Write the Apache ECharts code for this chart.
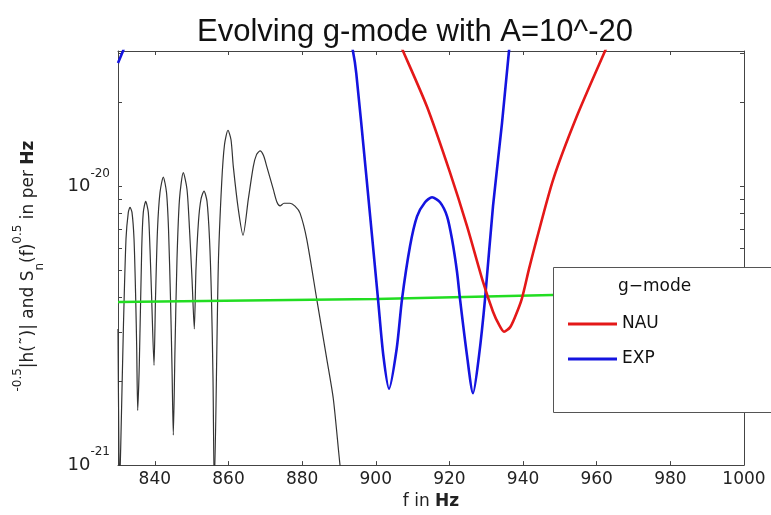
<!DOCTYPE html>
<html><head><meta charset="utf-8">
<script src="https://cdn.jsdelivr.net/npm/echarts@6/dist/echarts.min.js"></script>
<style>html,body{margin:0;padding:0;background:#fff}#c{width:771px;height:515px}</style>
</head><body><div id="c"></div>
<script>
// ---- text ----
const titleText = 'Evolving g-mode with A=10^-20';
const legendHeader = 'g\u2212mode';
const legendNames = ['NAU', 'EXP'];
// ---- axes ----
const xRange = [830, 1000];
const xTicks = [840, 860, 880, 900, 920, 940, 960, 980, 1000];
const yRange = [1e-21, 3.06e-20];
const yDecades = [-21, -20];
const yMinorMult = [2, 3, 4, 5, 6, 7, 8, 9];
// ---- black curve: |h(f)| ----
const blackF = [830.0, 830.41, 830.73, 831.44, 832.17, 832.80, 833.26, 833.80, 834.35, 834.81, 835.08, 835.35,
  835.78, 836.44, 836.87, 837.52, 838.23, 838.69, 839.15, 839.78,
  840.18, 840.73, 841.41, 842.30, 843.17, 843.72, 844.26, 844.67, 845.02,
  845.48, 846.02, 846.70, 847.73, 848.74, 849.42, 850.10, 850.72,
  851.18, 851.86, 852.54, 853.36, 854.17, 854.85, 855.39, 855.80, 856.15,
  857.24, 858.16, 858.92, 859.87, 860.69, 861.31, 862.67, 863.95,
  865.39, 866.75, 867.62, 868.57, 869.52, 870.39, 872.18, 873.18, 874.0, 875.08, 876.71, 878.07, 879.43,
  881.25, 883.97, 886.68, 888.47, 890.29, 891.1];
const blackV = [3.08e-21, 8.3e-22, 1.15e-21, 3.01e-21, 6.47e-21, 8.07e-21, 8.41e-21, 8.07e-21, 6.47e-21, 3.94e-21, 2.62e-21, 1.57e-21,
  2.28e-21, 5.96e-21, 8.07e-21, 8.83e-21, 8.07e-21, 5.96e-21, 3.94e-21, 2.28e-21,
  3.94e-21, 7.02e-21, 9.52e-21, 1.08e-20, 9.52e-21, 7.02e-21, 3.94e-21, 2.22e-21, 1.28e-21,
  2.62e-21, 5.48e-21, 9.0e-21, 1.12e-20, 9.75e-21, 7.02e-21, 4.66e-21, 3.08e-21,
  5.06e-21, 7.5e-21, 9.0e-21, 9.62e-21, 8.83e-21, 6.47e-21, 3.94e-21, 2.05e-21, 8.3e-22,
  5.19e-21, 1.03e-20, 1.41e-20, 1.59e-20, 1.47e-20, 1.18e-20, 8.28e-21, 6.68e-21,
  9.0e-21, 1.18e-20, 1.3e-20, 1.34e-20, 1.29e-20, 1.18e-20, 9.75e-21, 8.77e-21, 8.51e-21, 8.7e-21, 8.7e-21, 8.49e-21, 8.02e-21,
  6.47e-21, 3.94e-21, 2.41e-21, 1.73e-21, 1.0e-21, 8.3e-22];
// ---- green curve: Sn(f)^0.5 ----
const greenF = [830, 900, 948, 1000];
const greenV = [3.85e-21, 3.94e-21, 4.08e-21, 4.2e-21];
// ---- blue curve: EXP ----
const blueF = [830.0, 831.36, 833.0, 891.0, 893.8, 894.7, 897.35, 900.61, 902.06, 903.6, 905.69, 907.13, 909.31, 911.21,
  913.38, 915.28, 917.45, 919.36, 920.7, 922.07, 922.88, 924.78, 926.41, 928.04, 929.67, 931.84, 934.29, 936.18, 938.0];
const blueV = [2.77e-20, 3.06e-20, 3.45e-20, 4.5e-20, 3.06e-20, 2.55e-20, 1.12e-20, 3.94e-21, 2.47e-21, 1.88e-21, 2.62e-21, 3.94e-21, 6.11e-21, 7.81e-21,
  8.77e-21, 9.14e-21, 8.77e-21, 7.81e-21, 6.47e-21, 4.93e-21, 3.94e-21, 2.47e-21, 1.81e-21, 2.47e-21, 3.94e-21, 8.49e-21, 1.69e-20, 3.06e-20, 5e-20];
// ---- red curve: NAU ----
const redF = [905.0, 907.4, 913.92, 920.17, 924.78, 929.13, 931.84, 933.47, 934.83, 936.46, 937.82, 939.64, 941.62, 943.71, 948.2, 954.57, 962.26, 965.0];
const redV = [3.6e-20, 3.06e-20, 1.93e-20, 1.12e-20, 7.2e-21, 4.54e-21, 3.55e-21, 3.19e-21, 3.01e-21, 3.12e-21, 3.4e-21, 3.94e-21, 5.06e-21, 6.47e-21, 1.06e-20, 1.78e-20, 3.06e-20, 3.7e-20];

const lg = v => Math.log10(v);
const pairs = (f, v) => f.map((x, i) => [x, lg(v[i])]);
const yTickVals = [];
yDecades.forEach(d => {
  yTickVals.push(d);
  yMinorMult.forEach(m => { const t = d + Math.log10(m); if (t <= lg(yRange[1])) yTickVals.push(t); });
});
const yLabelVals = yDecades.slice();

const axisColor = '#444';
const fontTick = 'DejaVu Sans';
const chart = echarts.init(document.getElementById('c'), null, {renderer: 'canvas'});
const xCommon = {
  type: 'value', min: xRange[0], max: xRange[1],
  splitLine: {show: false},
  axisLine: {show: true, lineStyle: {color: axisColor, width: 1}},
  axisTick: {show: true, inside: true, length: 4, customValues: xTicks, lineStyle: {color: axisColor}}
};
const yCommon = {
  type: 'value', min: lg(yRange[0]), max: lg(yRange[1]),
  splitLine: {show: false},
  axisLine: {show: true, lineStyle: {color: axisColor, width: 1}},
  axisTick: {show: true, inside: true, length: 4, customValues: yTickVals, lineStyle: {color: axisColor}}
};
chart.setOption({
  animation: false,
  backgroundColor: '#fff',
  title: {
    text: titleText, left: 415, textAlign: 'center', top: 17, padding: 0,
    textStyle: {fontFamily: 'Liberation Sans', fontSize: 31, fontWeight: 'normal', color: '#111'}
  },
  grid: {left: 118, right: 27, top: 51, bottom: 48, containLabel: false},
  xAxis: [
    Object.assign({}, xCommon, {
      position: 'bottom',
      axisLabel: {show: true, customValues: xTicks, margin: 6, color: '#222', fontFamily: fontTick, fontSize: 17,
        formatter: v => String(Math.round(v))},
      name: '{a|f in }{b|Hz}', nameLocation: 'middle', nameGap: 24,
      nameTextStyle: {rich: {a: {fontFamily: fontTick, fontSize: 17, color: '#222'}, b: {fontFamily: fontTick, fontSize: 17, fontWeight: 'bold', color: '#222'}}}
    }),
    Object.assign({}, xCommon, {position: 'top', axisLabel: {show: false}})
  ],
  yAxis: [
    Object.assign({}, yCommon, {
      position: 'left',
      axisLabel: {
        show: true, customValues: yLabelVals, margin: 8,
        formatter: v => '{b|10}{s|' + Math.round(v) + '}',
        rich: {
          b: {fontFamily: fontTick, fontSize: 18, lineHeight: 38, color: '#222'},
          s: {fontFamily: fontTick, fontSize: 12, lineHeight: 12, verticalAlign: 'top', color: '#222'}
        }
      },
      name: '{sup|-0.5}{b||h(\u02DC)| and S}{sub|n}{b|(f)}{sup|0.5}{b| in per }{bb|Hz}',
      nameLocation: 'middle', nameRotate: 90, nameGap: 72,
      nameTextStyle: {padding: [0, 16, 0, 0], rich: {
        b: {fontFamily: fontTick, fontSize: 17, lineHeight: 34, color: '#222'},
        bb: {fontFamily: fontTick, fontSize: 17, lineHeight: 34, fontWeight: 'bold', color: '#222'},
        sup: {fontFamily: fontTick, fontSize: 12, lineHeight: 12, verticalAlign: 'top', color: '#222'},
        sub: {fontFamily: fontTick, fontSize: 12, lineHeight: 12, verticalAlign: 'bottom', color: '#222'}
      }}
    }),
    Object.assign({}, yCommon, {position: 'right', axisLabel: {show: false}})
  ],
  legend: {
    data: legendNames, orient: 'vertical', left: 563, top: 309, itemGap: 15,
    itemWidth: 49, itemHeight: 3, icon: 'rect', selectedMode: false, z: 6,
    textStyle: {fontFamily: fontTick, fontSize: 17, lineHeight: 20, color: '#111'}
  },
  graphic: [
    {type: 'rect', z: 4, shape: {x: 553.5, y: 267.5, width: 240, height: 145},
      style: {fill: '#fff', stroke: '#555', lineWidth: 1}},
    {type: 'text', z: 5, x: 618, y: 287, style: {text: legendHeader, fontFamily: fontTick, fontSize: 17, fill: '#111', textVerticalAlign: 'middle'}}
  ],
  series: [
    {type: 'line', name: '|h(f)|', data: pairs(blackF, blackV), showSymbol: false, symbol: 'none', smooth: 0.25,
      lineStyle: {color: '#333', width: 1.2}, z: 2},
    {type: 'line', name: 'Sn', data: pairs(greenF, greenV), showSymbol: false, symbol: 'none',
      lineStyle: {color: '#22dd22', width: 2.5}, z: 2},
    {type: 'line', name: legendNames[1], data: pairs(blueF, blueV), showSymbol: false, symbol: 'none', smooth: 0.25,
      itemStyle: {color: '#1414e0'}, lineStyle: {color: '#1414e0', width: 2.6}, z: 2},
    {type: 'line', name: legendNames[0], data: pairs(redF, redV), showSymbol: false, symbol: 'none', smooth: 0.25,
      itemStyle: {color: '#e41818'}, lineStyle: {color: '#e41818', width: 2.6}, z: 2}
  ]
});
</script>
</body></html>
